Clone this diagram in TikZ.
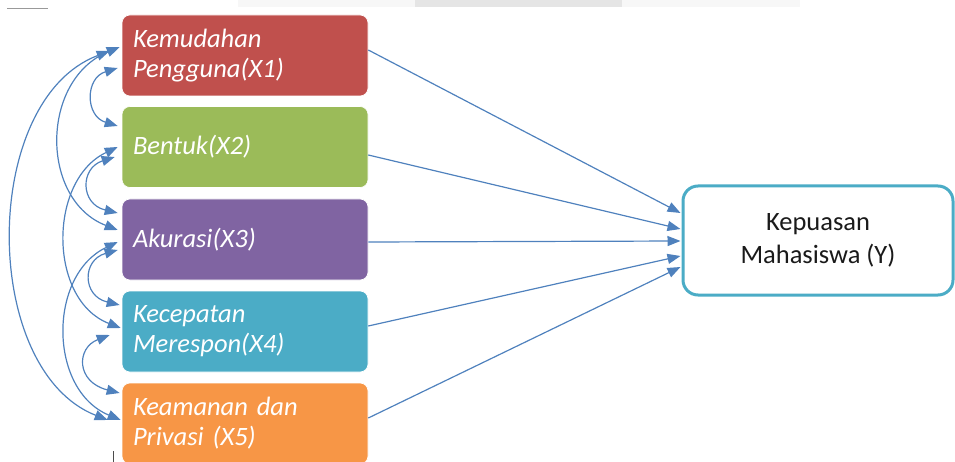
\documentclass[tikz,border=0pt]{standalone}
\usepackage{fontspec}
\setmainfont{Carlito}
\usetikzlibrary{arrows.meta,calc}

\definecolor{cRed}{HTML}{C0504D}
\definecolor{cGreen}{HTML}{9BBB59}
\definecolor{cPurple}{HTML}{8064A2}
\definecolor{cAqua}{HTML}{4BACC6}
\definecolor{cOrange}{HTML}{F79646}
\definecolor{cLink}{HTML}{4F81BD}
\definecolor{cText}{HTML}{1A1A1A}

\tikzset{
  factor/.style={rounded corners=8pt, minimum width=246pt, minimum height=81pt,
    text width=224pt, inner xsep=11pt, align=left, text=white, draw=white,
    line width=0.6pt, font=\fontsize{26.5}{30}\selectfont\itshape},
  outcome/.style={rounded corners=15pt, minimum width=270pt, minimum height=109pt,
    draw=cAqua, line width=3pt, fill=white, align=center, text=cText,
    font=\fontsize{26.5}{33}\selectfont},
  tip/.tip={Triangle[length=13pt,width=10pt]},
  link/.style={draw=cLink, line width=1.2pt, -tip},
  corr/.style={draw=cLink, line width=1.2pt, tip-tip}
}

\begin{document}
\begin{tikzpicture}[x=1pt,y=-1pt]
\useasboundingbox (0,0) rectangle (955,462);

% window chrome at the edges
\fill[black!3] (238,0) rectangle (800,7);
\fill[black!10] (415,0) rectangle (622,7);
\draw[black!40, line width=1pt] (7,9) -- (48,9);
\draw[black!70, line width=0.8pt] (113,451) -- (113,462);

% factor boxes
\node[factor, fill=cRed]    (x1) at (245,55.5)  {Kemudahan\\Pengguna(X1)};
\node[factor, fill=cGreen]  (x2) at (245,147)   {Bentuk(X2)};
\node[factor, fill=cPurple] (x3) at (245,239.5) {Akurasi(X3)};
\node[factor, fill=cAqua]   (x4) at (245,331.5) {Kecepatan\\Merespon(X4)};
\node[factor, fill=cOrange] (x5) at (245,423.5) {Keamanan dan\\Privasi (X5)};

% outcome box
\node[outcome] (y) at (818,240.5) {\raisebox{-3pt}{Kepuasan}\\\raisebox{-3pt}{Mahasiswa (Y)}};

% paths into the outcome
\draw[link] ($(x1.east)+(0,-5.5)$) -- ($(y.west)+(-1,-27.5)$);
\draw[link] ($(x2.east)+(0,8)$)    -- ($(y.west)+(-1,-11.5)$);
\draw[link] ($(x3.east)+(0,2.5)$)  -- ($(y.west)+(-1,0.5)$);
\draw[link] ($(x4.east)+(0,-5.5)$) -- ($(y.west)+(-1,15.5)$);
\draw[link] ($(x5.east)+(0,-5.5)$) -- ($(y.west)+(-1,26.5)$);

% correlations between factors
\draw[corr] ($(x1.west)+(-4,12.5)$)  .. controls (85,78)  and (85,116)  .. ($(x2.west)+(-4,-21)$);
\draw[corr] ($(x2.west)+(-7,10)$)    .. controls (80,168) and (80,204)  .. ($(x3.west)+(-4,-26.5)$);
\draw[corr] ($(x3.west)+(-4,10.5)$)  .. controls (82,260) and (82,296)  .. ($(x4.west)+(-2,-26.5)$);
\draw[corr] ($(x4.west)+(-12,3.5)$)  .. controls (76,348) and (76,382)  .. ($(x5.west)+(-2,-30.5)$);
\draw[corr] ($(x1.west)+(-2,-8.5)$)  .. controls (40,80)  and (40,200)  .. ($(x3.west)+(-4,-9.5)$);
\draw[corr] ($(x1.west)+(-12,-4.5)$) .. controls (-20,100) and (-20,370) .. ($(x5.west)+(-14,-3.5)$);
\draw[corr] ($(x2.west)+(-4,0)$)     .. controls (48,180) and (48,300)  .. ($(x4.west)+(-1,-3.5)$);
\draw[corr] ($(x3.west)+(-4,2.5)$)   .. controls (48,275) and (48,390)  .. ($(x5.west)+(-1,-3.5)$);
\end{tikzpicture}
\end{document}
